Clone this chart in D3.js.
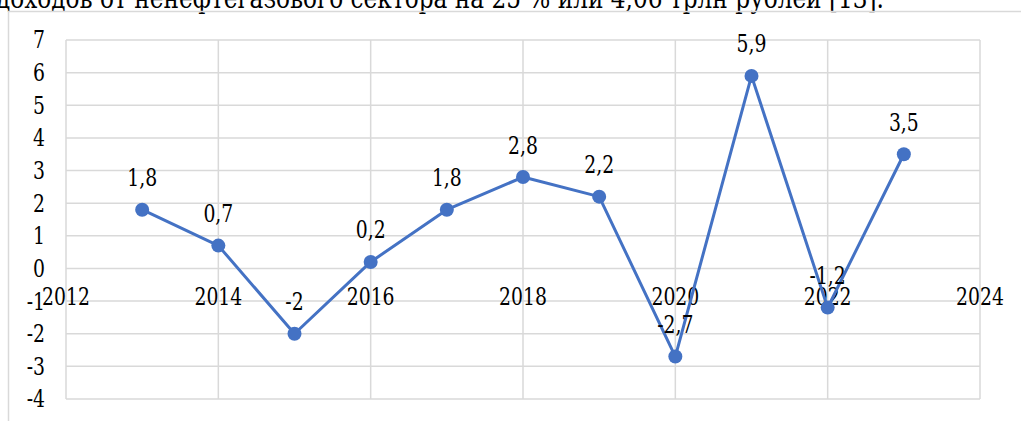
<!DOCTYPE html>
<html><head><meta charset="utf-8">
<script src="https://cdn.jsdelivr.net/npm/d3@7"></script>
<style>
html,body{margin:0;padding:0;background:#fff;overflow:hidden;}
</style></head>
<body>
<svg id="c" width="1021" height="421" font-family="'DejaVu Serif', serif"></svg>
<script>
const years = [2013,2014,2015,2016,2017,2018,2019,2020,2021,2022,2023];
const values = [1.8,0.7,-2,0.2,1.8,2.8,2.2,-2.7,5.9,-1.2,3.5];
const xTicks = [2012,2014,2016,2018,2020,2022,2024];
const yTicks = [-4,-3,-2,-1,0,1,2,3,4,5,6,7];
const caption = "доходов от ненефтегазового сектора на 25 % или 4,06 трлн рублей [13].";

const svg = d3.select("#c");
const x = d3.scaleLinear().domain([2012,2024]).range([66,980]);
const y = d3.scaleLinear().domain([-4,7]).range([399,40]);
const fmt = v => String(v).replace(".", ",");
const grid = "#D9D9D9";
const fs = 23.5, sx = 0.8;

// caption line of the surrounding document, cut off at the top
svg.append("text").attr("x",884).attr("y",8).attr("text-anchor","end")
  .attr("font-size",27).attr("fill","#000")
  .attr("textLength",888).attr("lengthAdjust","spacingAndGlyphs").text(caption);

// chart area border
svg.append("rect").attr("x",8.5).attr("y",11.5).attr("width",1100).attr("height",500)
  .attr("fill","none").attr("stroke",grid).attr("stroke-width",1.5);

// gridlines
svg.append("g").selectAll("line").data(yTicks).join("line")
  .attr("x1",x(2012)).attr("x2",x(2024))
  .attr("y1",d=>y(d)).attr("y2",d=>y(d))
  .attr("stroke",grid).attr("stroke-width",1.5);
svg.append("g").selectAll("line").data(xTicks).join("line")
  .attr("x1",d=>x(d)).attr("x2",d=>x(d))
  .attr("y1",y(7)).attr("y2",y(-4))
  .attr("stroke",grid).attr("stroke-width",1.5);

// y labels
svg.append("g").selectAll("text").data(yTicks).join("text")
  .attr("transform",d=>`translate(45,${y(d)}) scale(${sx},1)`)
  .attr("dy","0.36em")
  .attr("text-anchor","end").attr("font-size",fs).attr("fill","#000")
  .text(d=>d);

// x labels
svg.append("g").selectAll("text").data(xTicks).join("text")
  .attr("transform",d=>`translate(${x(d)},${y(0)+37}) scale(${sx},1)`)
  .attr("text-anchor","middle").attr("font-size",fs).attr("fill","#000")
  .text(d=>d);

// line
const line = d3.line().x((d,i)=>x(years[i])).y(d=>y(d));
svg.append("path").datum(values).attr("d",line)
  .attr("fill","none").attr("stroke","#4472C4").attr("stroke-width",3)
  .attr("stroke-linejoin","round");

// markers
svg.append("g").selectAll("circle").data(values).join("circle")
  .attr("cx",(d,i)=>x(years[i])).attr("cy",d=>y(d)).attr("r",7)
  .attr("fill","#4472C4");

// data labels
svg.append("g").selectAll("text").data(values).join("text")
  .attr("transform",(d,i)=>`translate(${x(years[i])},${y(d)-23.5}) scale(${sx},1)`)
  .attr("text-anchor","middle").attr("font-size",fs).attr("fill","#000")
  .text(d=>fmt(d));
</script>
</body></html>
